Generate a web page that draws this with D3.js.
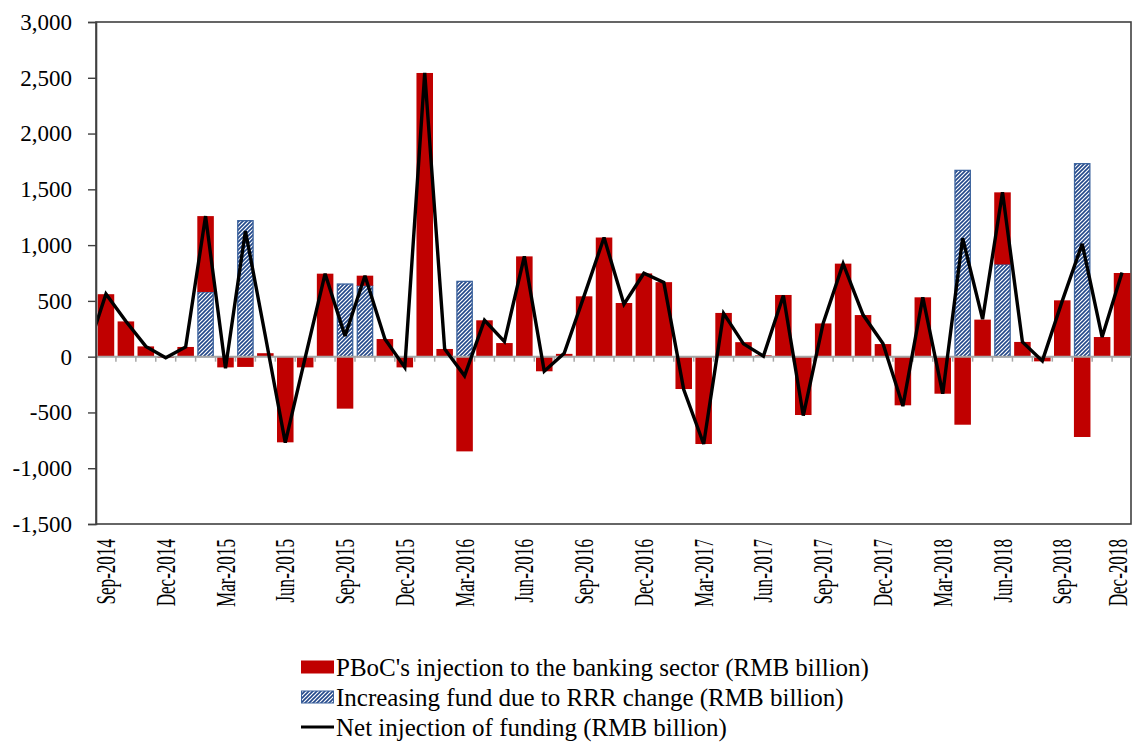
<!DOCTYPE html>
<html><head><meta charset="utf-8">
<script src="https://cdn.jsdelivr.net/npm/d3@7"></script>
<style>
body{margin:0;background:#fff}
svg{display:block}
text{font-family:"Liberation Serif","Times New Roman",serif;fill:#000}
</style>
</head><body>
<svg id="chart" width="1132" height="742"></svg>
<script>
// ---- data ----
const months = ["Sep-2014","Oct-2014","Nov-2014","Dec-2014","Jan-2015","Feb-2015","Mar-2015","Apr-2015","May-2015","Jun-2015","Jul-2015","Aug-2015",
"Sep-2015","Oct-2015","Nov-2015","Dec-2015","Jan-2016","Feb-2016","Mar-2016","Apr-2016","May-2016","Jun-2016","Jul-2016","Aug-2016",
"Sep-2016","Oct-2016","Nov-2016","Dec-2016","Jan-2017","Feb-2017","Mar-2017","Apr-2017","May-2017","Jun-2017","Jul-2017","Aug-2017",
"Sep-2017","Oct-2017","Nov-2017","Dec-2017","Jan-2018","Feb-2018","Mar-2018","Apr-2018","May-2018","Jun-2018","Jul-2018","Aug-2018",
"Sep-2018","Oct-2018","Nov-2018","Dec-2018"];
const pboc = [560,316,92,-12,87,680,-96,-92,31,-768,-96,744,
-466,90,158,-96,2543,69,-849,326,122,899,-131,25,
541,1068,481,746,668,-290,-783,392,130,12,553,-523,
298,834,373,113,-436,532,-332,-610,332,646,132,-42,
505,-720,176,750];
const rrr = [0,0,0,0,0,580,0,1219,0,0,0,0,
651,636,0,0,0,0,675,0,0,0,0,0,
0,0,0,0,0,0,0,0,0,0,0,0,
0,0,0,0,0,0,0,1670,0,827,0,0,
0,1730,0,0];
const net = [562,318,92,-10,87,1260,-104,1127,185,-770,-9,744,
186,726,158,-96,2543,69,-172,326,135,900,-131,30,
545,1068,470,748,665,-295,-783,388,115,5,548,-528,
300,834,375,118,-443,532,-332,1062,336,1473,132,-38,
500,1012,176,755];
const netPrevMonth = 20; // Aug-2014 value, lies left of the plot (clipped)
const yTicks = [-1500,-1000,-500,0,500,1000,1500,2000,2500,3000];
const xLabelEvery = 3;
const legendLabels = ["PBoC's injection to the banking sector (RMB billion)",
"Increasing fund due to RRR change (RMB billion)",
"Net injection of funding (RMB billion)"];

// ---- layout ----
const L = 96, R = 1131, T = 22, B = 524;
const RED = "#C00000", BLUE = "#23488A";
const svg = d3.select("#chart");

const x = d3.scaleBand().domain(months).range([L, L + 1036]).paddingInner(0.17).paddingOuter(0.085);
const y = d3.scaleLinear().domain([-1500, 3000]).range([B, T]);
const step = x.step(), bw = x.bandwidth();
const xc = m => x(m) + bw / 2;

const defs = svg.append("defs");
const pat = defs.append("pattern").attr("id","hatch").attr("patternUnits","userSpaceOnUse")
  .attr("width",4).attr("height",4);
pat.append("rect").attr("width",4).attr("height",4).attr("fill","#fff");
pat.append("path").attr("d","M-1,1 L1,-1 M0,4 L4,0 M3,5 L5,3").attr("stroke",BLUE).attr("stroke-width",1.6);
defs.append("clipPath").attr("id","clip").append("rect")
  .attr("x",L).attr("y",T).attr("width",R-L).attr("height",B-T);

// frame
svg.append("rect").attr("x",L).attr("y",T).attr("width",R-L).attr("height",B-T)
  .attr("fill","none").attr("stroke","#404040").attr("stroke-width",1.6);

// bars
const rows = months.map((m,i)=>({month:m, rrr:rrr[i], pboc:pboc[i]}));
const stack = d3.stack().keys(["rrr","pboc"]).offset(d3.stackOffsetDiverging)(rows);
const gBars = svg.append("g").attr("clip-path","url(#clip)");
stack.forEach(layer=>{
  const isR = layer.key==="rrr";
  gBars.selectAll(null).data(layer.filter(d=>d[1]!==d[0])).join("rect")
    .attr("x",d=>x(d.data.month)+(isR?0.6:0))
    .attr("width",bw-(isR?1.2:0))
    .attr("y",d=>y(Math.max(d[0],d[1])))
    .attr("height",d=>Math.abs(y(d[0])-y(d[1])))
    .attr("fill",isR?"url(#hatch)":RED)
    .attr("stroke",isR?"#3C639E":"none")
    .attr("stroke-width",isR?1.3:0);
});

// zero axis with ticks at band boundaries
const gx = svg.append("g");
gx.append("line").attr("x1",L).attr("x2",R).attr("y1",y(0)).attr("y2",y(0))
  .attr("stroke","#A6A6A6").attr("stroke-width",2);
const bounds = months.map(m=>x(m)-step*x.paddingInner()/2).concat([x(months[months.length-1])+bw+step*x.paddingInner()/2]);
gx.selectAll(null).data(bounds.filter(b=>b>L+1&&b<R-1)).join("line")
  .attr("x1",d=>d).attr("x2",d=>d).attr("y1",y(0)).attr("y2",y(0)+5)
  .attr("stroke","#A6A6A6").attr("stroke-width",1.5);

// line
const pts = [[xc(months[0])-step, netPrevMonth]].concat(months.map((m,i)=>[xc(m), net[i]]));
svg.append("path").attr("clip-path","url(#clip)")
  .attr("d", d3.line().x(d=>d[0]).y(d=>y(d[1]))(pts))
  .attr("fill","none").attr("stroke","#000").attr("stroke-width",3.4).attr("stroke-linejoin","miter").attr("stroke-miterlimit",3);

// y axis
const fmt = d => d3.format(",")(d).replace("\u2212","-");
const gy = svg.append("g").attr("transform",`translate(${L},0)`)
  .call(d3.axisLeft(y).tickValues(yTicks).tickFormat(fmt).tickSize(8).tickPadding(16));
gy.select(".domain").attr("stroke","#404040").attr("stroke-width",1.6);
gy.selectAll(".tick line").attr("stroke","#404040").attr("stroke-width",1.4);
gy.selectAll(".tick text").attr("font-size",23).attr("font-family","Liberation Serif").attr("fill","#000");

// x labels
svg.append("g").selectAll("text").data(months.filter((m,i)=>i%xLabelEvery===0)).join("text")
  .attr("transform",d=>`translate(${Math.min(xc(d),1118)},539) rotate(-90) scale(0.9,1.45)`)
  .attr("text-anchor","end").attr("dominant-baseline","central")
  .attr("font-size",19).text(d=>d);

// legend
const lg = svg.append("g");
const rowsY = [667, 697, 727];
lg.append("rect").attr("x",301).attr("y",rowsY[0]-6.5).attr("width",33).attr("height",13).attr("fill",RED);
lg.append("rect").attr("x",301.5).attr("y",rowsY[1]-6).attr("width",32).attr("height",12)
  .attr("fill","url(#hatch)").attr("stroke","#3C639E").attr("stroke-width",1);
lg.append("line").attr("x1",301).attr("x2",334).attr("y1",rowsY[2]).attr("y2",rowsY[2]).attr("stroke","#000").attr("stroke-width",3.2);
lg.selectAll("text").data(legendLabels).join("text")
  .attr("x",336).attr("y",(d,i)=>rowsY[i]+8.5).attr("font-size",25).text(d=>d);
</script>
</body></html>
